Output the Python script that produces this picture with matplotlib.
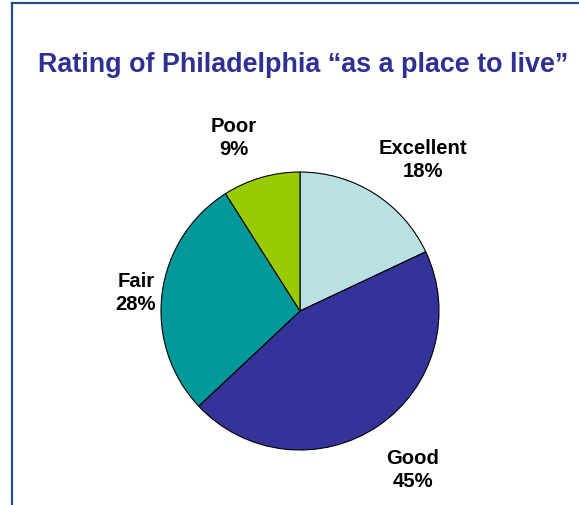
import matplotlib.pyplot as plt
from matplotlib.lines import Line2D
import numpy as np

categories = ["Excellent", "Good", "Fair", "Poor"]
shares = [18, 45, 28, 9]
colors = ["#B9E0E3", "#333399", "#009999", "#99CC00"]

plt.rcParams["font.family"] = ["Liberation Sans", "DejaVu Sans"]

W, H = 579, 506
fig = plt.figure(figsize=(W / 100, H / 100), dpi=100)

# frame lines (left and top, clipped by the image edge)
fig.add_artist(Line2D([12 / W, 12 / W], [0, 1 - 4 / H], transform=fig.transFigure,
                      color="#1F4E8C", lw=1.6))
fig.add_artist(Line2D([12 / W, 1], [1 - 4 / H, 1 - 4 / H], transform=fig.transFigure,
                      color="#1F4E8C", lw=1.6))

fig.text(303 / W, 1 - 72 / H, "Rating of Philadelphia \u201cas a place to live\u201d",
         ha="center", va="baseline", fontsize=19.4, fontweight="bold", color="#2E3192")

cx, cy, r = 300, 506 - 312, 139
ax = fig.add_axes([(cx - r) / W, (cy - r) / H, 2 * r / W, 2 * r / H])
wedges, _ = ax.pie(shares, colors=colors, startangle=90, counterclock=False,
                   radius=1, wedgeprops=dict(edgecolor="black", linewidth=0.8))
ax.set_xlim(-1, 1)
ax.set_ylim(-1, 1)

label_dist = [1.407, 1.397, 1.188, 1.34]
label_shift = [-6.6, 1.4, 0.6, 4.6]
for w, name, val, d, s in zip(wedges, categories, shares, label_dist, label_shift):
    ang = np.deg2rad((w.theta1 + w.theta2) / 2 + s)
    ax.text(d * np.cos(ang), d * np.sin(ang), f"{name}\n{val}%", ha="center",
            va="center", fontsize=14.6, fontweight="bold", linespacing=1.22,
            clip_on=False)

fig.savefig("out.png", dpi=100)
